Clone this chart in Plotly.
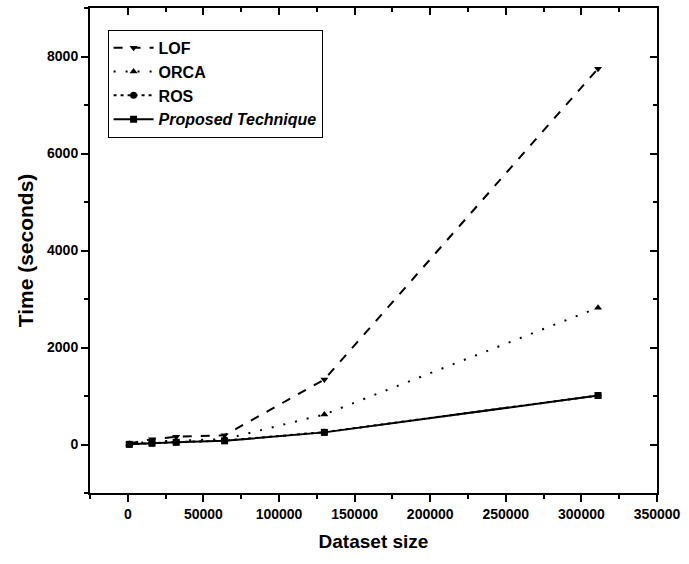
import plotly.graph_objects as go

# Dataset sizes and run times (seconds) for each technique
dataset_size = [1000, 16000, 32000, 64000, 130000, 311000]
lof_time = [20, 110, 160, 190, 1340, 7750]
orca_time = [10, 60, 80, 110, 620, 2820]
ros_time = [5, 30, 50, 80, 255, 1010]
proposed_time = [3, 25, 45, 75, 250, 1010]

x_ticks = [0, 50000, 100000, 150000, 200000, 250000, 300000, 350000]
y_ticks = [0, 2000, 4000, 6000, 8000]

series = [
    ("LOF", lof_time, "dash", "triangle-down"),
    ("ORCA", orca_time, "2px,10px", "triangle-up"),
    ("ROS", ros_time, "3px,4px", "circle"),
    ("<i>Proposed Technique</i>", proposed_time, "solid", "square"),
]

fig = go.Figure()
for name, ys, dash, sym in series:
    fig.add_trace(go.Scatter(
        x=dataset_size, y=ys, name=name, mode="lines+markers",
        line=dict(color="black", width=2, dash=dash),
        marker=dict(symbol=sym, size=7, color="black"),
    ))

# invisible trace so the mirrored top/right axes are drawn
fig.add_trace(go.Scatter(x=[0], y=[0], xaxis="x2", yaxis="y2",
                         mode="markers", marker=dict(opacity=0),
                         showlegend=False, hoverinfo="skip"))

xr = [-25000, 350000]
yr = [-1000, 9000]
font = dict(family="Liberation Sans, Arial, sans-serif", color="black")

fig.update_layout(
    width=689, height=564,
    margin=dict(l=90, r=27, t=8, b=71),
    paper_bgcolor="white", plot_bgcolor="white",
    font=font,
    showlegend=True,
    legend=dict(
        x=0.031, y=0.955, xanchor="left", yanchor="top",
        bgcolor="white", bordercolor="black", borderwidth=1,
        font=dict(size=16, family="Liberation Sans, Arial, sans-serif", weight="bold"),
        itemwidth=40, tracegroupgap=0,
    ),
    xaxis=dict(
        range=xr, tickvals=x_ticks, ticktext=[str(v) for v in x_ticks],
        ticks="outside", ticklen=7, tickwidth=1.5, tickcolor="black",
        minor=dict(dtick=25000, tick0=0, ticks="outside", ticklen=4, tickcolor="black"),
        showline=True, linecolor="black", linewidth=2,
        showgrid=False, zeroline=False,
        tickfont=dict(size=14, weight="bold"),
        title=dict(text="Dataset size", font=dict(size=19, weight="bold"), standoff=14),
    ),
    yaxis=dict(
        range=yr, tickvals=y_ticks, ticktext=[str(v) for v in y_ticks],
        ticks="outside", ticklen=7, tickwidth=1.5, tickcolor="black",
        minor=dict(dtick=1000, tick0=0, ticks="outside", ticklen=4, tickcolor="black"),
        showline=True, linecolor="black", linewidth=2,
        showgrid=False, zeroline=False,
        tickfont=dict(size=14, weight="bold"),
        title=dict(text="Time (seconds)", font=dict(size=21, weight="bold"), standoff=8),
    ),
    xaxis2=dict(
        range=xr, overlaying="x", side="top", anchor="y",
        tickvals=x_ticks, showticklabels=False,
        ticks="inside", ticklen=7, tickwidth=1.5, tickcolor="black",
        minor=dict(dtick=25000, tick0=0, ticks="inside", ticklen=4, tickcolor="black"),
        showline=True, linecolor="black", linewidth=2,
        showgrid=False, zeroline=False,
    ),
    yaxis2=dict(
        range=yr, overlaying="y", side="right", anchor="x",
        tickvals=y_ticks, showticklabels=False,
        ticks="inside", ticklen=7, tickwidth=1.5, tickcolor="black",
        minor=dict(dtick=1000, tick0=0, ticks="inside", ticklen=4, tickcolor="black"),
        showline=True, linecolor="black", linewidth=2,
        showgrid=False, zeroline=False,
    ),
)

fig.write_html("out.html")
